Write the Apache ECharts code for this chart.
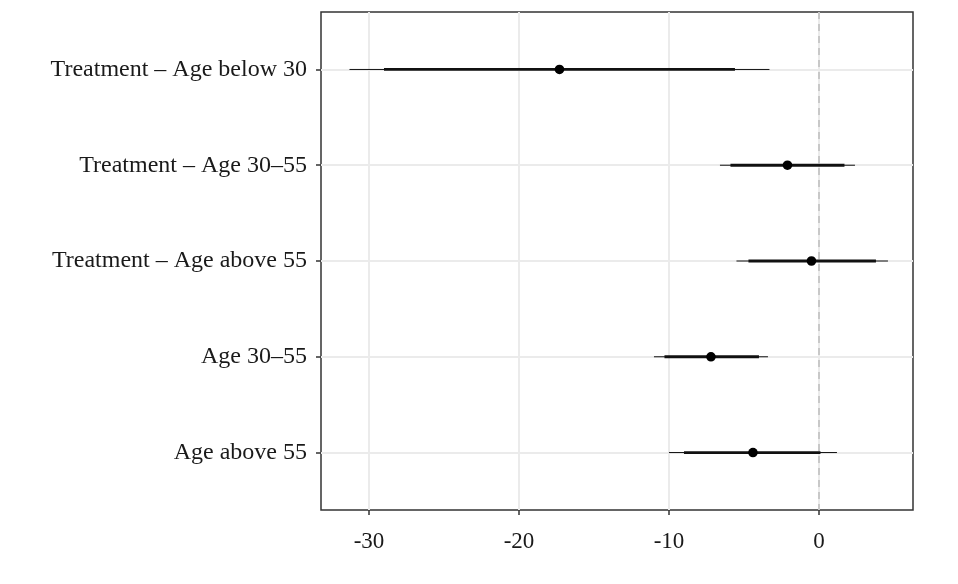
<!DOCTYPE html>
<html>
<head>
<meta charset="utf-8">
<script src="https://cdn.jsdelivr.net/npm/echarts@6/dist/echarts.min.js"></script>
<style>
  html, body { margin: 0; padding: 0; background: #fff; }
  #main { width: 958px; height: 584px; }
</style>
</head>
<body>
<div id="main"></div>
<script>
// coefficient plot: point estimate with 90% (thick) and 95% (thin) intervals
var categories = ['Treatment – Age below 30', 'Treatment – Age 30–55', 'Treatment – Age above 55', 'Age 30–55', 'Age above 55'];
var estimate = [-17.3, -2.1, -0.5, -7.2, -4.4];
var lo90 = [-29.0, -5.9, -4.7, -10.3, -9.0];
var hi90 = [-5.6, 1.7, 3.8, -4.0, 0.1];
var lo95 = [-31.3, -6.6, -5.5, -11.0, -10.0];
var hi95 = [-3.3, 2.4, 4.6, -3.4, 1.2];
var xTicks = [-30, -20, -10, 0];

var font = 'Liberation Serif';

var seriesData = categories.map(function (c, i) {
    return [i, lo95[i], lo90[i], estimate[i], hi90[i], hi95[i]];
});

var chart = echarts.init(document.getElementById('main'));

chart.setOption({
    animation: false,
    backgroundColor: '#fff',
    grid: {
        left: 321, right: 45, top: 12, bottom: 74,
        show: true, borderColor: '#333', borderWidth: 1.5, backgroundColor: 'transparent'
    },
    xAxis: {
        type: 'value',
        min: -33.2,
        max: 6.27,
        axisLine: { show: false, onZero: false },
        axisTick: { show: true, length: 5, lineStyle: { color: '#333', width: 1.5 }, customValues: xTicks },
        axisLabel: { customValues: xTicks, margin: 20, color: '#1a1a1a', fontFamily: font, fontSize: 23 },
        splitLine: { show: true, lineStyle: { color: '#ebebeb', width: 2 } }
    },
    yAxis: {
        type: 'value',
        inverse: true,
        min: -0.6,
        max: 4.6,
        axisLine: { show: false, onZero: false },
        axisTick: { show: true, length: 5, lineStyle: { color: '#333', width: 1.5 }, customValues: [0, 1, 2, 3, 4] },
        axisLabel: {
            customValues: [0, 1, 2, 3, 4],
            margin: 14,
            color: '#1a1a1a', fontFamily: font, fontSize: 24,
            formatter: function (v) { return categories[v] || ''; }
        },
        splitLine: { show: true, lineStyle: { color: '#ebebeb', width: 2 } }
    },
    series: [{
        type: 'custom',
        data: seriesData,
        encode: { x: [1, 2, 3, 4, 5], y: 0 },
        renderItem: function (params, api) {
            var y = api.value(0);
            var a = api.coord([api.value(1), y]);
            var b = api.coord([api.value(2), y]);
            var p = api.coord([api.value(3), y]);
            var c = api.coord([api.value(4), y]);
            var d = api.coord([api.value(5), y]);
            return {
                type: 'group',
                children: [
                    { type: 'line', shape: { x1: a[0], y1: a[1], x2: d[0], y2: d[1] }, style: { stroke: '#111', lineWidth: 1 } },
                    { type: 'line', shape: { x1: b[0], y1: b[1], x2: c[0], y2: c[1] }, style: { stroke: '#111', lineWidth: 2.8 } },
                    { type: 'circle', shape: { cx: p[0], cy: p[1], r: 4.8 }, style: { fill: '#000' } }
                ]
            };
        },
        markLine: {
            silent: true,
            symbol: 'none',
            label: { show: false },
            lineStyle: { color: '#bdbdbd', type: [7, 5], width: 1.5 },
            data: [{ xAxis: 0 }]
        },
        z: 3
    }]
});
</script>
</body>
</html>
